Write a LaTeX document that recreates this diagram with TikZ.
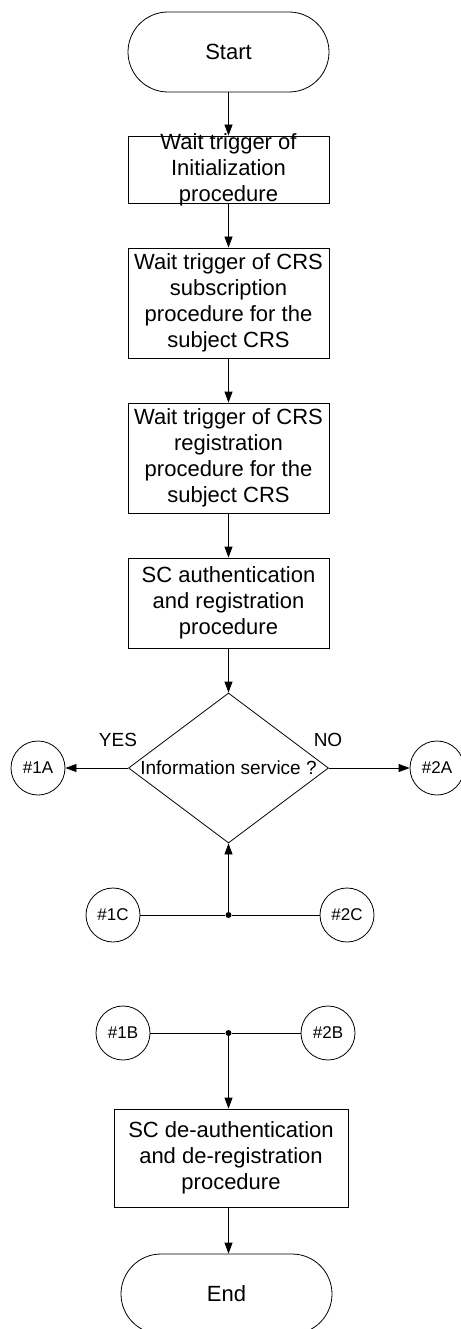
\documentclass[tikz,border=0pt]{standalone}
\usepackage{fontspec}
\setmainfont{Liberation Sans}
\usetikzlibrary{arrows.meta,shapes.geometric}

\begin{document}
\begin{tikzpicture}[x=1pt,y=-1pt,line width=0.8pt,
  boxfont/.style={font=\fontsize{22}{26}\selectfont},
  terminal/.style={draw, rounded corners=40pt, minimum height=80pt, inner sep=0pt, boxfont},
  procbox/.style={draw, minimum width=201pt, inner sep=0pt},
  boxtext/.style={align=center, inner sep=0pt, boxfont},
  decision/.style={draw, diamond, minimum width=200pt, minimum height=150pt, inner sep=0pt},
  smalltext/.style={inner sep=0pt, font=\fontsize{19}{22}\selectfont},
  connector/.style={draw, circle, minimum size=54pt, inner sep=0pt, font=\fontsize{17}{20}\selectfont},
  junction/.style={fill, circle, minimum size=6pt, inner sep=0pt},
  flow/.style={-{Triangle[length=11pt,width=8pt]}}]
\useasboundingbox (0,0) rectangle (460,1329);
\node[terminal, minimum width=201pt] (start) at (228.5,52) {Start};
\node[procbox, minimum height=67pt] (init) at (228.5,169.5) {};
\node[boxtext] at (init) {Wait trigger of\\Initialization\\procedure};
\node[procbox, minimum height=110pt] (subscr) at (228.5,303) {};
\node[boxtext] at (subscr) {Wait trigger of CRS\\subscription\\procedure for the\\subject CRS};
\node[procbox, minimum height=110pt] (regis) at (228.5,458) {};
\node[boxtext] at (regis) {Wait trigger of CRS\\registration\\procedure for the\\subject CRS};
\node[procbox, minimum height=90pt] (auth) at (228.5,603) {};
\node[boxtext] at (auth) {SC authentication\\and registration\\procedure};
\node[decision] (infoserv) at (228.5,768) {};
\node[smalltext] at (infoserv) {Information service ?};
\node[smalltext] (yes) at (118,740) {YES};
\node[smalltext] (no) at (328,740) {NO};
\node[connector] (c1A) at (38,768) {\#1A};
\node[connector] (c2A) at (437,768) {\#2A};
\node[connector] (c1C) at (113,915) {\#1C};
\node[connector] (c2C) at (347,915) {\#2C};
\node[junction] (jC) at (228.5,915) {};
\node[connector] (c1B) at (123,1033) {\#1B};
\node[connector] (c2B) at (328,1033) {\#2B};
\node[junction] (jB) at (228.5,1033) {};
\node[procbox, minimum width=234pt, minimum height=98pt] (deauth) at (231,1158) {};
\node[boxtext] at (deauth) {SC de-authentication\\and de-registration\\procedure};
\node[terminal, minimum width=211pt] (stop) at (226.5,1294) {End};
\draw[flow] (start) -- (init);
\draw[flow] (init) -- (subscr);
\draw[flow] (subscr) -- (regis);
\draw[flow] (regis) -- (auth);
\draw[flow] (auth) -- (infoserv);
\draw[flow] (infoserv.west) -- (c1A);
\draw[flow] (infoserv.east) -- (c2A);
\draw (c1C) -- (jC) -- (c2C);
\draw[flow] (jC) -- (infoserv.south);
\draw (c1B) -- (jB) -- (c2B);
\draw[flow] (jB) -- (jB |- deauth.north);
\draw[flow] (deauth.south -| jB) -- (stop.north -| jB);
\end{tikzpicture}
\end{document}
